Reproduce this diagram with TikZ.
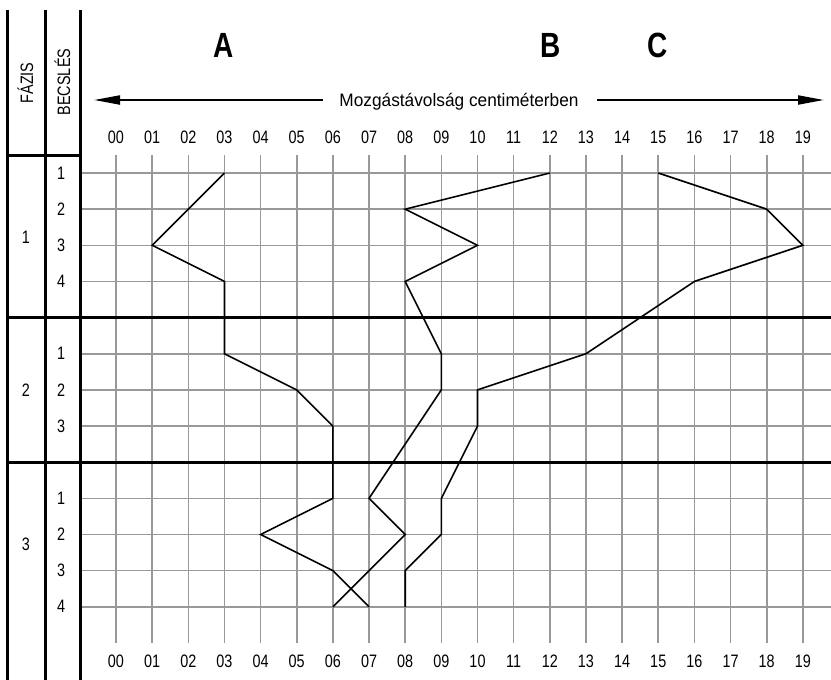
\documentclass[tikz,border=0pt]{standalone}
\usepackage{fontspec}
\setmainfont{Liberation Sans}
\newfontfamily\narrowfont{Liberation Sans}[FakeStretch=0.8]
\newfontfamily\labelfont{Liberation Sans}[FakeStretch=0.96]
\usetikzlibrary{arrows.meta}
\definecolor{gridgray}{HTML}{999999}
\begin{document}
\begin{tikzpicture}[x=1pt,y=-1pt,
  gridline/.style={draw=gridgray, line width=1.6pt},
  frameline/.style={draw=black, line width=3pt},
  dataline/.style={draw=black, line width=1.6pt},
  axisarrow/.style={draw=black, line width=2pt, -{Triangle[length=26pt,width=9pt]}},
  num/.style={font=\narrowfont\fontsize{18}{20}\selectfont, inner sep=0pt, anchor=base},
  big/.style={font=\narrowfont\bfseries\fontsize{35}{38}\selectfont, inner sep=0pt, anchor=base},
  axislabel/.style={font=\labelfont\fontsize{18}{20}\selectfont, inner sep=0pt, anchor=base},
  header/.style={font=\narrowfont\fontsize{18}{20}\selectfont, inner sep=0pt, anchor=base, rotate=90}]
\useasboundingbox (0,0) rectangle (831,680);
\fill[white] (0,0) rectangle (831,680);

% grid
\begin{scope}[shift={(116,173)}, x=36.15pt, y=-36.15pt]
  \foreach \k in {0,...,19} \draw[gridline] (\k,-0.5) -- (\k,13);
  \foreach \r in {0,1,2,3,5,6,7,9,10,11,12} \draw[gridline] (-1,\r) -- (19.8,\r);
  \foreach \r in {4,8} \draw[frameline] (-3.02,\r) -- (19.8,\r);
  % column numbers
  \foreach \k in {0,...,19} {
    \node[num] (top\k) at (\k,-0.81) {\ifnum\k<10 0\fi\k};
    \node[num] (bot\k) at (\k,13.67) {\ifnum\k<10 0\fi\k};
  }
  % row labels
  \foreach \r/\t in {0/1,1/2,2/3,3/4,5/1,6/2,7/3,9/1,10/2,11/3,12/4}
    \node[num] (row\r) at (-1.52,\r+0.17) {\t};
  % data lines
  \draw[dataline] (3,0) -- (1,2) -- (3,3) -- (3,5) -- (5,6) -- (6,7) -- (6,9) -- (4,10) -- (6,11) -- (7,12);
  \draw[dataline] (12,0) -- (8,1) -- (10,2) -- (8,3) -- (9,5) -- (9,6) -- (7,9) -- (8,10) -- (6,12);
  \draw[dataline] (15,0) -- (18,1) -- (19,2) -- (16,3) -- (13,5) -- (10,6) -- (10,7) -- (9,9) -- (9,10) -- (8,11) -- (8,12);
\end{scope}

% left frame
\draw[frameline] (7,10) -- (7,680);
\draw[frameline] (45,10) -- (45,680);
\draw[frameline] (80,10) -- (80,680);
\draw[frameline] (7,155) -- (80,155);

% headers
\node[header] (fazis) at (33,83) {FÁZIS};
\node[header] (becsles) at (70,82) {BECSLÉS};

% phase labels
\node[num] (ph1) at (26,243) {1};
\node[num] (ph2) at (26,396) {2};
\node[num] (ph3) at (26,550) {3};

% big letters
\node[big] (la) at (224,57) {A};
\node[big] (lb) at (551,57) {B};
\node[big] (lc) at (658,57) {C};

% axis label and arrows
\node[axislabel] (axis) at (459,106.5) {Mozgástávolság centiméterben};
\coordinate (lefttip) at (94,100);
\coordinate (righttip) at (824,100);
\draw[axisarrow] (323,100) -- (lefttip);
\draw[axisarrow] (597,100) -- (righttip);
\end{tikzpicture}
\end{document}
